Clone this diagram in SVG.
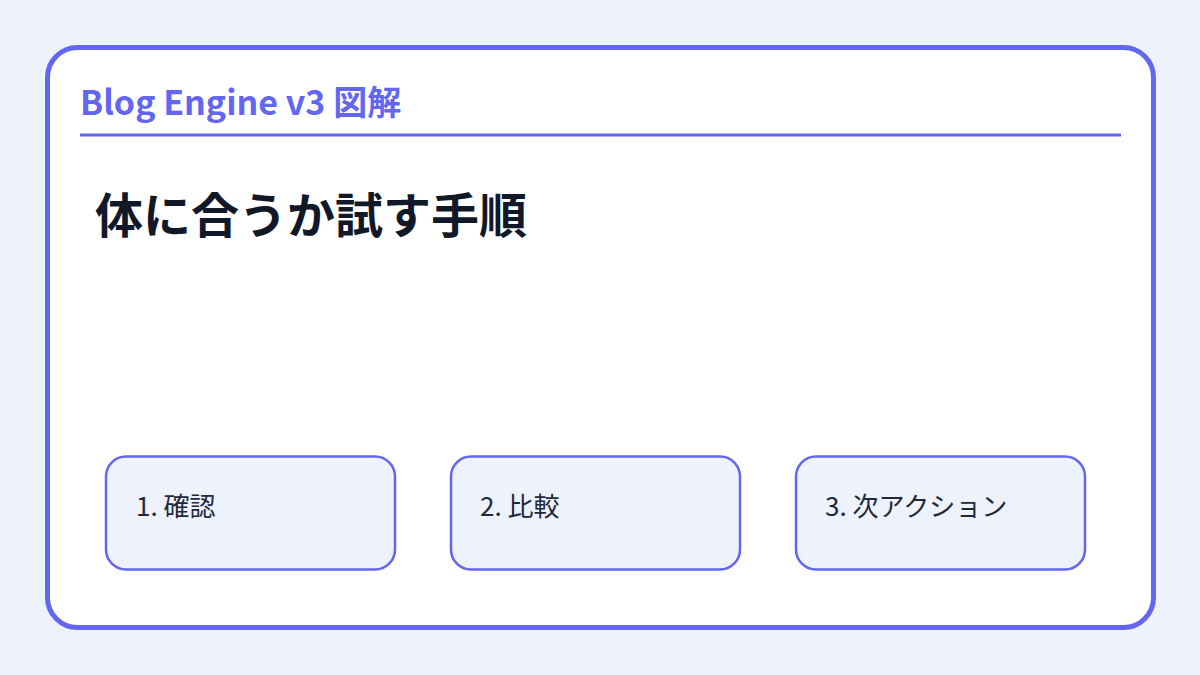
<svg xmlns="http://www.w3.org/2000/svg" width="1200" height="675" viewBox="0 0 1200 675">
<style>
.f{font-family:"Noto Sans CJK JP","Noto Sans",sans-serif}
.box{fill:#eef2fd;stroke:#6366f1;stroke-width:2.5}
.lbl{font-size:26px;fill:#1e293b}
</style>
<rect x="0" y="0" width="1200" height="675" fill="#eef2fd"/>
<g id="card">
<rect x="47.5" y="47.5" width="1106" height="580" rx="30" fill="#ffffff" stroke="#6366f1" stroke-width="5"/>
<text class="f" x="80" y="115" font-size="34" font-weight="700" fill="#6366f1">Blog Engine v3 図解</text>
<rect x="80" y="133.5" width="1041" height="3" fill="#6366f1"/>
<text class="f" x="95" y="233" font-size="48" font-weight="700" fill="#111827">体に合うか試す手順</text>
</g>
<g id="connectors"></g>
<g id="node1">
<rect class="box" x="106" y="456.5" width="289" height="113" rx="20"/>
<text class="f lbl" x="136" y="516">1. 確認</text>
</g>
<g id="node2">
<rect class="box" x="451" y="456.5" width="289" height="113" rx="20"/>
<text class="f lbl" x="480" y="516">2. 比較</text>
</g>
<g id="node3">
<rect class="box" x="796" y="456.5" width="289" height="113" rx="20"/>
<text class="f lbl" x="825" y="516">3. 次アクション</text>
</g>
</svg>
